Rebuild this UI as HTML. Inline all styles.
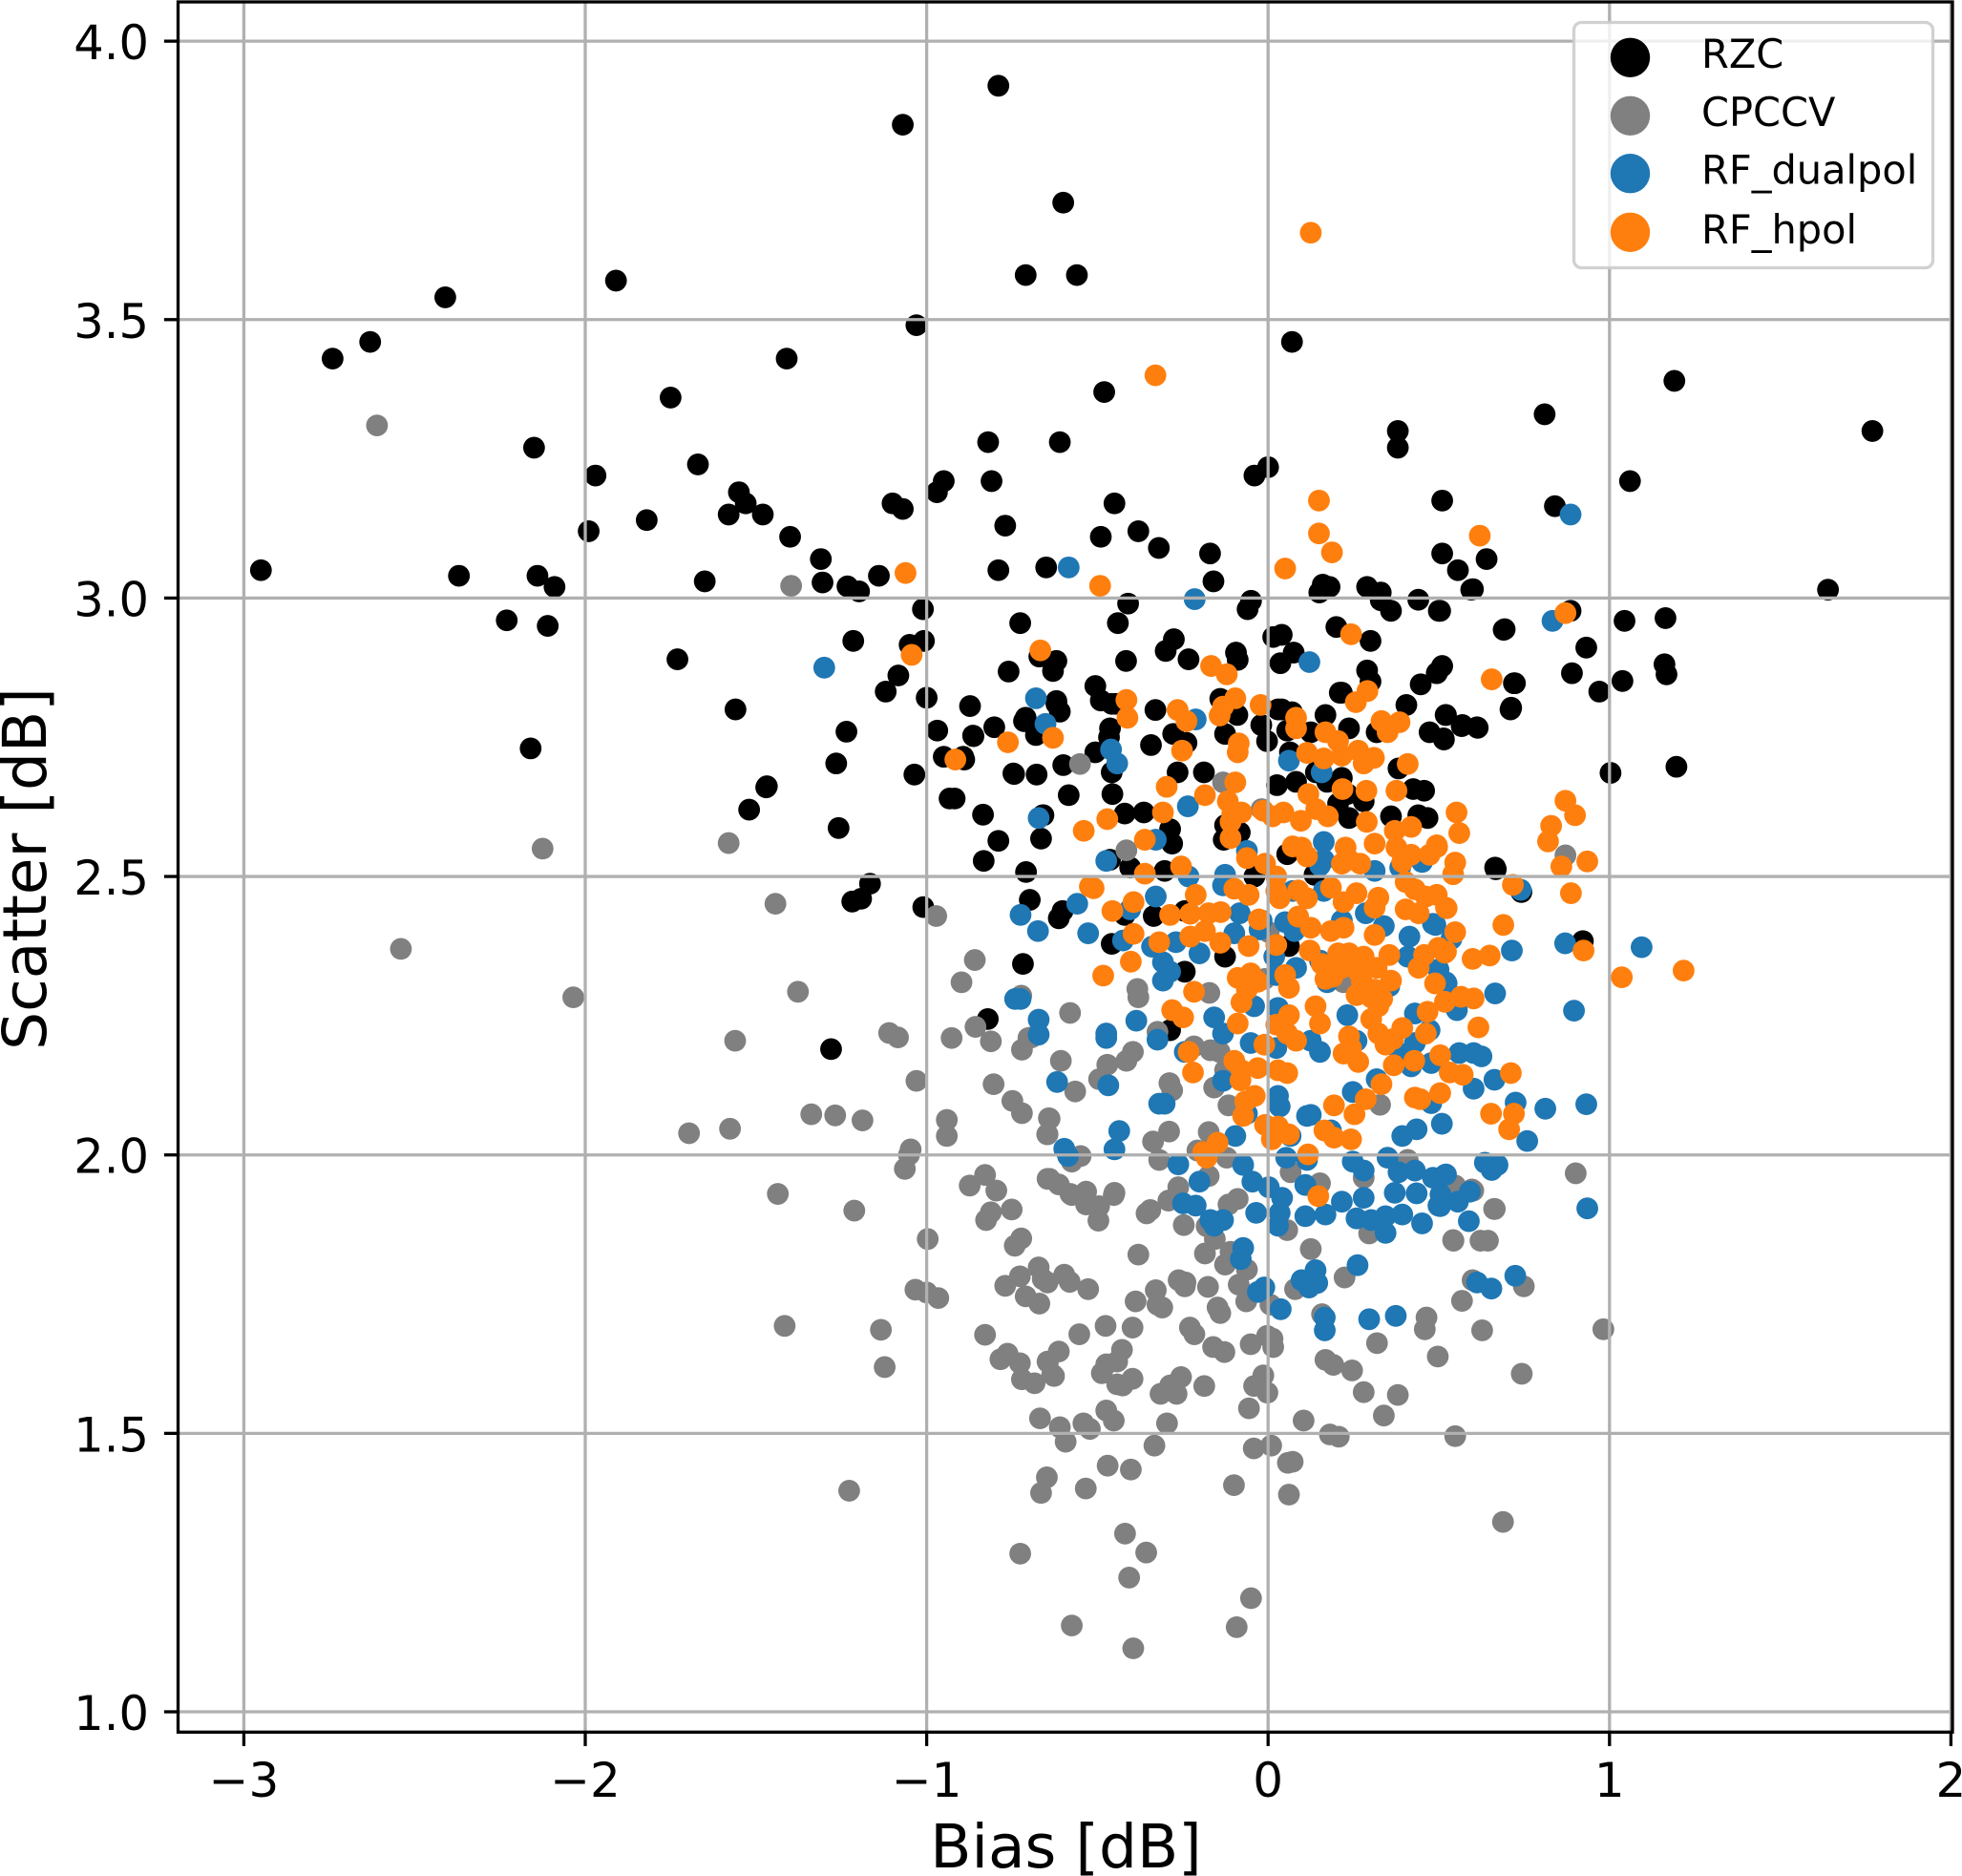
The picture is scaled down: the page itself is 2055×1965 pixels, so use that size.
<!DOCTYPE html>
<html lang="en">
<head>
<meta charset="utf-8">
<title>Bias vs Scatter</title>
<style>
html,body{margin:0;padding:0;background:#fff;width:2055px;height:1965px;overflow:hidden}
svg{display:block}
text{font-family:"DejaVu Sans","Liberation Sans",sans-serif;fill:#000}
</style>
</head>
<body>
<svg id="chart" xmlns="http://www.w3.org/2000/svg" width="2055" height="1965" viewBox="0 0 2055 1965">
  <rect x="0" y="0" width="2055" height="1965" fill="#fff"/>
  <g id="marks"></g>
  <g id="grid"></g>
  <g id="ticks"></g>
  <rect x="186.5" y="2" width="1858.5" height="1812.3" fill="none" stroke="#000" stroke-width="3.3"/>
  <text x="1116.5" y="1956" font-size="63" text-anchor="middle">Bias [dB]</text>
  <text transform="translate(48,910) rotate(-90)" font-size="63" text-anchor="middle">Scatter [dB]</text>
  <g>
    <rect x="1648.5" y="23.5" width="376" height="257" rx="8" ry="8" fill="#fff" fill-opacity="0.8" stroke="#ccc" stroke-opacity="0.9" stroke-width="3.3"/>
    <circle cx="1707.5" cy="60.3" r="20.7" fill="#000"/>
    <text x="1782" y="71" font-size="41.5">RZC</text>
    <circle cx="1707.5" cy="121.3" r="20.7" fill="#808080"/>
    <text x="1782" y="132" font-size="41.5">CPCCV</text>
    <circle cx="1707.5" cy="181.7" r="20.7" fill="#1f77b4"/>
    <text x="1782" y="192.5" font-size="41.5">RF_dualpol</text>
    <circle cx="1707.5" cy="243.3" r="20.7" fill="#ff7f0e"/>
    <text x="1782" y="255" font-size="41.5">RF_hpol</text>
  </g>
</svg>
<script>
const xTickValues=[-3,-2,-1,0,1,2];
const xTickLabels=["\u22123","\u22122","\u22121","0","1","2"];
const yTickValues=[1,1.5,2,2.5,3,3.5,4];
const yTickLabels=["1.0","1.5","2.0","2.5","3.0","3.5","4.0"];
const rzcPoints=[
[-2.95,3.05],[-2.74,3.43],[-2.63,3.46],[-2.41,3.54],[-2.37,3.04],[-2.23,2.96],[-2.15,3.27],[-2.14,3.04],[-2.11,2.95],[-2.09,3.02],[-2.16,2.73],[-1.97,3.22],[-1.99,3.12],[-1.91,3.57],[-1.82,3.14],[-1.75,3.36],[-1.73,2.89],[-1.67,3.24],[-1.65,3.03],[-1.58,3.15],[-1.55,3.19],[-1.53,3.17],[-1.48,3.15],[-1.56,2.80],[-1.52,2.62],[-1.47,2.66],[-1.41,3.43],[-1.40,3.11],[-1.31,3.07],[-1.07,3.85],[-1.03,3.49],[-1.10,3.17],[-1.07,3.16],[-1.28,2.19],[-0.97,3.19],[-0.95,3.21],[-0.79,3.92],[-0.71,3.58],[-0.56,3.58],[-0.60,3.71],[-0.48,3.37],
[-1.305,3.028],[-1.232,3.021],[-1.198,3.012],[-1.14,3.04],[-1.011,2.98],[-1.215,2.923],[-1.05,2.916],[-1.008,2.923],[-1.083,2.861],[-1.12,2.832],[-1.0,2.821],[-0.726,2.955],[-0.76,2.868],[-0.873,2.806],[-1.235,2.76],[-1.265,2.703],[-1.468,2.662],[-1.258,2.587],[-0.969,2.762],[-0.863,2.752],[-0.802,2.768],[-0.715,2.779],[-0.68,2.754],[-0.95,2.715],[-0.893,2.715],[-1.036,2.683],[-0.744,2.684],[-0.678,2.683],[-0.933,2.64],[-0.835,2.611],[-0.79,2.564],[-0.833,2.528],[-0.709,2.508],[-0.66,2.61],[-0.698,2.458],[-0.665,2.568],[-1.166,2.487],[-1.192,2.46],[-1.218,2.455],[-1.01,2.445],
[-0.82,3.28],[-0.61,3.28],[-0.81,3.21],[-0.77,3.13],[-0.79,3.05],[-0.65,3.055],[-0.45,3.17],[-0.49,3.11],[-0.38,3.12],[-0.32,3.09],[-0.17,3.08],[-0.16,3.03],[-0.41,2.99],[-0.44,2.955],[-0.05,2.995],[-0.06,2.98],[0.00,3.235],[-0.04,3.22],[0.38,3.27],[0.38,3.30],[0.51,3.175],[0.51,3.08],[0.556,3.05],[0.64,3.07],[0.595,3.015],[0.15,3.01],[0.16,3.024],[0.18,3.02],[0.29,3.02],[0.33,3.01],[0.33,2.996],[0.36,2.977],[0.44,2.997],[0.50,2.977],[0.69,2.943],[0.20,2.948],[0.30,2.923],[0.015,2.93],[0.04,2.934],[0.075,2.902],[0.036,2.883],[0.29,2.87],[0.30,2.85],[0.21,2.83],[0.447,2.845],[0.494,2.865],[0.51,2.878],[0.72,2.847],[0.71,2.80],[0.405,2.808],[0.52,2.79],[-0.276,2.926],[-0.30,2.905],[-0.233,2.89],[-0.094,2.902],[-0.089,2.889],[-0.416,2.887],[-0.62,2.887],[-0.67,2.895],[-0.63,2.869],[-0.506,2.842],[-0.49,2.816],[-0.62,2.81],[-0.14,2.819],[-0.61,2.796],[-0.71,2.785],[-0.33,2.799],[-0.447,2.81],[-0.09,2.79],[0.04,2.80],[0.07,2.795],[0.168,2.79],
[-0.714,2.779],[-0.864,2.753],[-0.62,2.815],[-0.458,2.81],[-0.463,2.766],[-0.466,2.75],[-0.343,2.736],[-0.278,2.756],[-0.239,2.74],[-0.506,2.723],[-0.89,2.71],[-0.60,2.70],[-0.458,2.687],[-0.746,2.685],[-0.584,2.646],[-0.456,2.648],[-0.265,2.687],[-0.188,2.687],[-0.126,2.756],[-0.02,2.772],[-0.003,2.743],[0.029,2.80],[0.056,2.762],[0.064,2.723],[0.082,2.67],[0.026,2.664],[0.125,2.759],[0.14,2.687],[0.216,2.83],[0.237,2.766],[0.318,2.759],[0.216,2.677],[0.173,2.67],[0.232,2.648],[0.28,2.635],[0.205,2.631],[0.237,2.605],[0.36,2.608],[0.44,2.61],[0.467,2.605],[0.382,2.694],[0.425,2.657],[0.457,2.654],[0.473,2.759],[0.515,2.746],[0.569,2.772],[0.612,2.768],[-0.918,2.64],[-0.658,2.61],[-0.42,2.613],[-0.364,2.615],[-0.287,2.585],[-0.281,2.559],[-0.126,2.592],[-0.13,2.566],[-0.083,2.579],[-0.404,2.516],[-0.303,2.51],[-0.463,2.53],[0.056,2.54],[0.136,2.503],[-0.04,2.5],[0.665,2.516],[-0.602,2.438],[-0.613,2.425],[-0.335,2.429],[-0.244,2.438],[-0.42,2.431],[-0.458,2.379],[-0.244,2.329],[-0.126,2.356],[0.061,2.375],[-0.718,2.343],[-0.821,2.244],[-0.287,2.224],[0.742,2.472],
[0.60,3.016],[0.504,2.977],[0.693,2.944],[0.886,2.977],[1.044,2.959],[1.164,2.964],[0.932,2.911],[1.161,2.881],[1.167,2.863],[0.89,2.865],[1.038,2.851],[0.97,2.832],[0.723,2.847],[0.712,2.803],[0.509,2.877],[0.495,2.866],[0.521,2.79],[0.567,2.77],[0.614,2.767],[0.514,2.748],[1.003,2.686],[1.196,2.697],[0.667,2.513],[0.922,2.384],[1.19,3.39],[0.81,3.33],[0.07,3.46],[1.77,3.30],[1.06,3.21],[0.84,3.165],[1.64,3.015]
];
const cpccvPoints=[
[-2.61,3.31],[-1.397,3.022],[-2.125,2.55],[-2.54,2.37],[-1.58,2.56],[-1.443,2.451],[-0.972,2.429],[-1.227,1.397],
[-2.035,2.283],[-1.377,2.293],[-1.561,2.205],[-1.11,2.219],[-1.084,2.211],[-1.03,2.133],[-0.927,2.21],[-0.857,2.23],[-0.812,2.204],[-0.859,2.35],[-0.898,2.31],[-0.723,2.286],[-0.702,2.21],[-0.721,2.189],[-0.804,2.127],[-0.749,2.097],[-0.721,2.075],[-0.642,2.066],[-0.646,2.037],[-1.338,2.073],[-1.268,2.071],[-1.188,2.062],[-1.576,2.047],[-1.696,2.039],[-0.941,2.063],[-0.941,2.034],[-1.047,2.01],[-1.052,2.0],[-1.064,1.975],[-0.829,1.964],[-0.874,1.945],[-0.796,1.936],[-0.646,1.957],[-1.436,1.93],[-1.212,1.90],[-0.997,1.849],[-0.812,1.897],[-0.826,1.883],[-0.751,1.902],[-0.723,1.85],[-0.742,1.837],[-0.672,1.798],[-0.727,1.782],[-0.77,1.765],[-0.66,1.777],[-0.646,1.771],[-0.71,1.746],[-0.67,1.733],[-1.033,1.758],[-1.0,1.753],[-0.966,1.743],[-1.416,1.693],[-1.134,1.686],[-1.123,1.619],[-0.829,1.677],[-0.763,1.643],[-0.784,1.633],[-0.727,1.626],[-0.646,1.629],[-0.721,1.597],[-0.684,1.59],[-0.668,1.527],[-0.632,1.606],
[-0.597,1.785],[-0.581,1.772],[-0.527,1.759],[-0.613,1.647],[-0.645,1.628],[-0.627,1.603],[-0.553,1.678],[-0.476,1.693],[-0.397,1.69],[-0.428,1.65],[-0.442,1.629],[-0.474,1.624],[-0.487,1.608],[-0.442,1.588],[-0.397,1.598],[-0.426,1.586],[-0.61,1.511],[-0.541,1.518],[-0.522,1.508],[-0.593,1.485],[-0.474,1.541],[-0.452,1.523],[-0.648,1.421],[-0.665,1.393],[-0.534,1.401],[-0.47,1.442],[-0.402,1.435],[-0.333,1.478],[-0.296,1.518],[-0.726,1.284],[-0.419,1.32],[-0.357,1.286],[-0.407,1.241],[-0.575,1.155],[-0.395,1.114],[-0.092,1.152],[-0.05,1.204],[-0.10,1.407],[0.061,1.39],[0.058,1.447],[0.072,1.449],[-0.042,1.473],[0.009,1.478],[0.104,1.523],[0.181,1.498],[0.207,1.494],[0.548,1.495],[0.688,1.341],[0.339,1.532],[0.38,1.569],[0.28,1.574],[0.246,1.613],[0.191,1.623],[0.168,1.632],[0.319,1.662],[0.497,1.638],[0.459,1.687],[0.464,1.708],[0.627,1.685],[0.743,1.607],[0.568,1.738],[0.599,1.775],[0.749,1.764],[0.158,1.714],[-0.315,1.571],[-0.287,1.586],[-0.255,1.601],[-0.268,1.571],[-0.187,1.585],[-0.056,1.545],[-0.041,1.585],[-0.014,1.604],[-0.002,1.573],[-0.051,1.66],[-0.003,1.675],[0.013,1.67],[0.015,1.655],[-0.161,1.655],[-0.128,1.646],[-0.229,1.69],[-0.216,1.678],[-0.148,1.726],[-0.14,1.716],[-0.329,1.757],[-0.388,1.737],[-0.324,1.731],[-0.31,1.726],[-0.262,1.775],[-0.242,1.771],[-0.244,1.764],[-0.176,1.763],[-0.086,1.767],[-0.064,1.737],[0.007,1.731],[0.079,1.759],[-0.062,1.794],[-0.126,1.803],[-0.11,1.826],[-0.185,1.823],[-0.156,1.849],[-0.18,1.872],[-0.247,1.874],[-0.356,1.895],[-0.345,1.901],[-0.38,1.821],[-0.497,1.882],[-0.533,1.911],[-0.495,1.908],[-0.575,1.928],[-0.452,1.928],[-0.292,1.918],[-0.089,1.921],[-0.116,1.911],[0.056,1.865],[0.125,1.831],[0.224,1.78],[0.296,1.859],[0.542,1.847],[0.622,1.846],[0.644,1.846],[0.662,1.903],
[-0.551,2.702],[-0.132,2.669],[-0.019,2.621],[-0.415,2.547],[-0.383,2.298],[-0.38,2.283],[-0.172,2.291],[0.002,2.40],[-0.01,2.316],[0.221,2.31],[-0.58,2.255],[-0.693,2.211],[-0.607,2.169],[-0.471,2.162],[-0.396,2.185],[-0.415,2.169],[-0.495,2.136],[-0.565,2.114],[-0.64,2.065],[-0.647,2.037],[-0.289,2.129],[-0.281,2.116],[-0.324,2.221],[-0.217,2.195],[-0.169,2.188],[-0.142,2.185],[-0.126,2.152],[-0.158,2.121],[-0.116,2.089],[0.328,2.09],[-0.174,2.041],[-0.29,2.042],[-0.337,2.024],[-0.207,2.008],[-0.549,1.998],[-0.575,1.988],[-0.319,1.991],[-0.121,1.995],[-0.64,1.957],[-0.613,1.947],[-0.579,1.93],[-0.533,1.934],[-0.45,1.932],[-0.263,1.942],[0.066,1.969],[0.152,1.949],[0.28,1.959],[-0.174,1.962],[0.548,1.945],[0.601,1.936],[0.409,1.991],[0.871,2.538],[0.901,1.967],[0.597,1.938],[0.664,1.903],[0.543,1.846],[0.982,1.687]
];
const dualpolPoints=[
[-1.30,2.875],[0.886,3.15],[0.833,2.959],[-0.584,3.055],[-0.215,2.998],[0.121,2.885],[0.87,2.38],[1.094,2.373],[0.896,2.259],[0.665,2.29],[0.714,2.367],[0.725,2.094],[0.812,2.083],[0.932,2.091],[0.759,2.025],[0.663,2.135],[0.602,2.119],[0.56,2.183],[0.602,2.183],[0.625,2.177],[0.509,2.056],[0.635,1.986],[0.672,1.982],[0.655,1.973],[0.935,1.904],[0.591,1.934],[0.504,1.908],[0.556,1.916],[0.588,1.881],[0.518,1.964],[0.551,2.262],[0.523,2.308],[0.49,2.413],[0.74,2.476],
[-0.68,2.82],[-0.652,2.774],[-0.46,2.728],[-0.442,2.703],[0.157,2.687],[0.061,2.708],[-0.212,2.782],[-0.235,2.626],[-0.672,2.605],[-0.329,2.566],[-0.474,2.528],[-0.233,2.5],[0.163,2.562],[0.163,2.53],[-0.062,2.546],[-0.126,2.503],[-0.132,2.484],[0.152,2.52],[0.312,2.51],[0.387,2.516],[0.451,2.526],[-0.329,2.464],[-0.559,2.451],[-0.725,2.431],[-0.674,2.402],[-0.527,2.398],[-0.404,2.441],[-0.425,2.385],[-0.27,2.382],[-0.34,2.374],[-0.083,2.434],[-0.099,2.398],[-0.019,2.421],[-0.025,2.405],[0.05,2.418],[0.077,2.402],[0.163,2.474],[0.072,2.474],[0.286,2.434],[0.216,2.421],[0.339,2.411],[0.414,2.392],[0.483,2.415],[0.537,2.388],[-0.201,2.362],[-0.308,2.346],[-0.287,2.329],[-0.308,2.313],[0.018,2.356],[0.082,2.336],[0.152,2.349],[0.024,2.323],[0.173,2.31],[0.355,2.303],[0.409,2.356],[0.499,2.333],[0.521,2.31],[-0.741,2.28],[-0.725,2.28],[-0.672,2.243],[-0.672,2.216],[-0.474,2.218],[-0.474,2.21],[-0.386,2.241],[-0.324,2.207],[-0.158,2.247],[-0.132,2.218],[-0.041,2.267],[0.029,2.264],[0.232,2.251],[0.43,2.254],[0.553,2.26],[0.473,2.224],[0.43,2.201],[-0.051,2.201],[0.024,2.192],[0.125,2.205],[0.152,2.185],[0.259,2.205],[0.387,2.182],[0.478,2.165],[0.419,2.159],[0.318,2.136],[0.478,2.093],[0.393,2.034],[0.435,2.046],[0.184,2.044],[0.248,2.113],[0.114,2.07],[0.125,2.072],[0.029,2.106],[0.034,2.087],[0.024,2.047],[0.066,2.034],[-0.062,2.074],[-0.096,2.034],[-0.618,2.131],[-0.468,2.125],[-0.319,2.092],[-0.303,2.092],[-0.132,2.133],[-0.436,2.043],[-0.45,2.01],[-0.597,2.011],[-0.586,1.998],[-0.263,1.983],[-0.244,2.185],[-0.201,1.952],[-0.073,1.982],[-0.046,1.952],[0.002,1.942],[0.041,1.923],[0.053,1.995],[0.114,1.991],[0.109,1.946],[0.248,1.988],[0.28,1.972],[0.35,1.995],[0.382,1.969],[0.43,1.972],[0.483,1.959],[0.521,1.965],[0.371,1.932],[0.435,1.931],[0.28,1.923],[0.216,1.916],[0.505,1.929],[-0.249,1.913],[-0.212,1.909],[-0.035,1.896],[0.034,1.896],[0.109,1.89],[0.168,1.893],[0.259,1.886],[0.302,1.883],[0.344,1.89],[0.393,1.893],[0.499,1.909],[0.451,1.877],[-0.169,1.883],[-0.132,1.883],[-0.158,1.873],[0.029,1.873],[0.344,1.86],
[-0.073,1.833],[-0.08,1.813],[-0.011,1.762],[-0.03,1.754],[0.037,1.723],[0.139,1.793],[0.098,1.775],[0.12,1.762],[0.144,1.77],[0.262,1.802],[0.166,1.708],[0.166,1.685],[0.296,1.705],[0.374,1.711],[0.612,1.771],[0.654,1.76],[0.724,1.783]
];
const hpolPoints=[
[0.125,3.656],[-0.33,3.40],[-1.062,3.045],[-1.044,2.898],[-0.916,2.71],[-0.762,2.741],[-0.667,2.906],[0.149,3.175],[0.149,3.116],[0.187,3.082],[0.05,3.053],[0.62,3.112],[-0.492,3.022],[0.243,2.935],[-0.167,2.878],[-0.121,2.863],[0.291,2.833],[0.257,2.813],[-0.096,2.82],[-0.132,2.805],[-0.022,2.808],[-0.415,2.817],[-0.265,2.799],
[0.871,2.973],[0.655,2.854],[0.871,2.636],[0.899,2.61],[0.829,2.591],[0.82,2.563],[0.935,2.527],[0.859,2.518],[0.887,2.47],[0.717,2.485],[0.689,2.413],[0.552,2.615],[0.56,2.578],[0.548,2.525],[0.542,2.504],[0.495,2.553],[0.924,2.367],[1.036,2.319],[1.217,2.331],[0.548,2.4],[0.523,2.443],[0.649,2.358],[0.599,2.352],[0.518,2.363],[0.602,2.281],[0.565,2.284],[0.518,2.275],[0.616,2.229],[0.711,2.147],[0.504,2.179],[0.532,2.148],[0.57,2.144],[0.504,2.111],[0.653,2.074],[0.72,2.074],[0.706,2.046],
[-0.412,2.785],[-0.239,2.779],[-0.142,2.789],[0.082,2.785],[0.082,2.766],[0.332,2.779],[0.385,2.777],[0.35,2.759],[-0.63,2.749],[-0.252,2.726],[-0.086,2.739],[-0.089,2.723],[0.168,2.759],[0.205,2.743],[0.114,2.722],[0.163,2.712],[0.216,2.717],[0.264,2.726],[0.28,2.703],[0.31,2.713],[0.409,2.702],[-0.096,2.669],[-0.297,2.661],[-0.185,2.646],[0.218,2.657],[0.288,2.654],[0.376,2.654],[0.118,2.648],[-0.118,2.635],[0.141,2.621],[-0.105,2.612],[-0.078,2.615],[0.175,2.608],[-0.308,2.615],[-0.471,2.603],[-0.54,2.582],[-0.014,2.618],[0.045,2.615],[0.013,2.608],[0.096,2.6],[0.289,2.598],[-0.11,2.598],[-0.11,2.569],[0.371,2.582],[0.419,2.589],[0.312,2.559],[-0.361,2.566],[0.072,2.554],[0.114,2.536],[0.098,2.552],[0.227,2.552],[0.494,2.556],[0.473,2.539],[0.376,2.552],[0.419,2.539],[0.393,2.526],[0.237,2.53],[0.216,2.523],[0.27,2.523],[-0.062,2.533],[-0.009,2.523],[-0.255,2.518],[-0.361,2.505],[0.024,2.5],[0.403,2.49],[0.43,2.477],[-0.522,2.482],[-0.511,2.479],[-0.099,2.478],[-0.057,2.467],[-0.212,2.467],[-0.394,2.454],[-0.456,2.438],[0.024,2.474],[0.034,2.461],[0.088,2.475],[0.114,2.461],[0.184,2.48],[0.221,2.454],[0.259,2.47],[0.323,2.462],[0.312,2.444],[0.462,2.464],[0.494,2.467],[0.521,2.444],[0.403,2.441],[0.441,2.434],[-0.287,2.431],[-0.228,2.433],[-0.174,2.434],[-0.139,2.436],[-0.027,2.423],[0.088,2.428],[0.125,2.408],[0.184,2.402],[0.221,2.408],[-0.394,2.397],[-0.185,2.402],[-0.228,2.392],[-0.319,2.382],[-0.14,2.381],[-0.057,2.375],[0.024,2.377],[0.312,2.395],[-0.402,2.347],[-0.483,2.322],[0.122,2.367],[0.205,2.362],[0.237,2.362],[0.28,2.356],[0.355,2.359],[0.457,2.359],[0.499,2.372],[0.521,2.365],[0.441,2.336],[0.157,2.343],[0.216,2.336],[0.318,2.336],[0.264,2.329],[0.168,2.316],[0.189,2.32],[0.275,2.31],[0.36,2.313],[0.489,2.308],[0.312,2.297],[-0.051,2.326],[-0.089,2.318],[-0.03,2.311],[-0.062,2.297],[0.05,2.323],[0.061,2.3],[-0.217,2.293],[0.259,2.287],[0.302,2.283],[0.334,2.28],[-0.078,2.274],[0.323,2.267],[0.467,2.257],[-0.281,2.26],[-0.249,2.247],[0.139,2.267],[0.152,2.236],[0.302,2.244],[0.061,2.251],[0.024,2.234],[-0.089,2.236],[0.393,2.228],[0.323,2.218],[0.462,2.218],[0.237,2.213],[0.056,2.218],[0.082,2.205],[0.344,2.198],[0.366,2.208],[-0.011,2.198],[-0.233,2.185],[0.243,2.192],[0.221,2.182],[0.264,2.167],[0.368,2.161],[0.428,2.169],[-0.22,2.148],[-0.099,2.169],[-0.078,2.152],[-0.03,2.156],[0.029,2.152],[0.056,2.147],[-0.081,2.134],[0.332,2.127],[-0.039,2.106],[-0.067,2.096],[-0.073,2.07],[0.286,2.1],[0.43,2.103],[0.446,2.1],[0.193,2.089],[0.253,2.073],[-0.009,2.054],[0.029,2.051],[0.061,2.037],[0.011,2.028],[0.165,2.044],[0.193,2.031],[0.243,2.028],[-0.148,2.022],[-0.19,2.005],[-0.18,1.995],[0.117,2.001],[0.147,1.926]
];
const seriesColors={rzc:"#000000",cpccv:"#808080",dualpol:"#1f77b4",hpol:"#ff7f0e"};

const SVGNS="http://www.w3.org/2000/svg";
const xMin=-3.1927,xMax=2.0045,yMin=0.9635,yMax=4.0705;
const plotLeft=186.5,plotRight=2045,plotTop=2,plotBottom=1814.3;
function xScale(v){return plotLeft+(v-xMin)/(xMax-xMin)*(plotRight-plotLeft);}
function yScale(v){return plotBottom-(v-yMin)/(yMax-yMin)*(plotBottom-plotTop);}
const marks=document.getElementById("marks");
const grid=document.getElementById("grid");
const ticks=document.getElementById("ticks");
function drawSeries(points,color,name){
  points.forEach(function(p){
    const c=document.createElementNS(SVGNS,"circle");
    c.setAttribute("cx",xScale(p[0]).toFixed(2));
    c.setAttribute("cy",yScale(p[1]).toFixed(2));
    c.setAttribute("r","11.4");
    c.setAttribute("fill",color);
    
    
    marks.appendChild(c);
  });
}
drawSeries(rzcPoints,seriesColors.rzc,"point-rzc");
drawSeries(cpccvPoints,seriesColors.cpccv,"point-cpccv");
drawSeries(dualpolPoints,seriesColors.dualpol,"point-rf-dualpol");
drawSeries(hpolPoints,seriesColors.hpol,"point-rf-hpol");
function line(parent,x1,y1,x2,y2,stroke){
  const l=document.createElementNS(SVGNS,"line");
  l.setAttribute("x1",x1);l.setAttribute("y1",y1);l.setAttribute("x2",x2);l.setAttribute("y2",y2);
  l.setAttribute("stroke",stroke);l.setAttribute("stroke-width","3.3");
  parent.appendChild(l);
  return l;
}
xTickValues.forEach(function(v,i){
  const x=xScale(v);
  const g=line(grid,x,plotTop,x,plotBottom,"#b0b0b0");
  
  
  const t=line(ticks,x,plotBottom,x,plotBottom+14.6,"#000");
  
  
  const s=document.createElementNS(SVGNS,"text");
  s.setAttribute("x",x);s.setAttribute("y",1882);
  s.setAttribute("font-size","50");s.setAttribute("text-anchor","middle");
  s.textContent=xTickLabels[i];
  
  
  ticks.appendChild(s);
});
yTickValues.forEach(function(v,i){
  const y=yScale(v);
  const g=line(grid,plotLeft,y,plotRight,y,"#b0b0b0");
  
  
  const t=line(ticks,plotLeft-14.6,y,plotLeft,y,"#000");
  
  
  const s=document.createElementNS(SVGNS,"text");
  s.setAttribute("x",156);s.setAttribute("y",y+19);
  s.setAttribute("font-size","49.5");s.setAttribute("text-anchor","end");
  s.textContent=yTickLabels[i];
  
  
  ticks.appendChild(s);
});
</script>
</body>
</html>
